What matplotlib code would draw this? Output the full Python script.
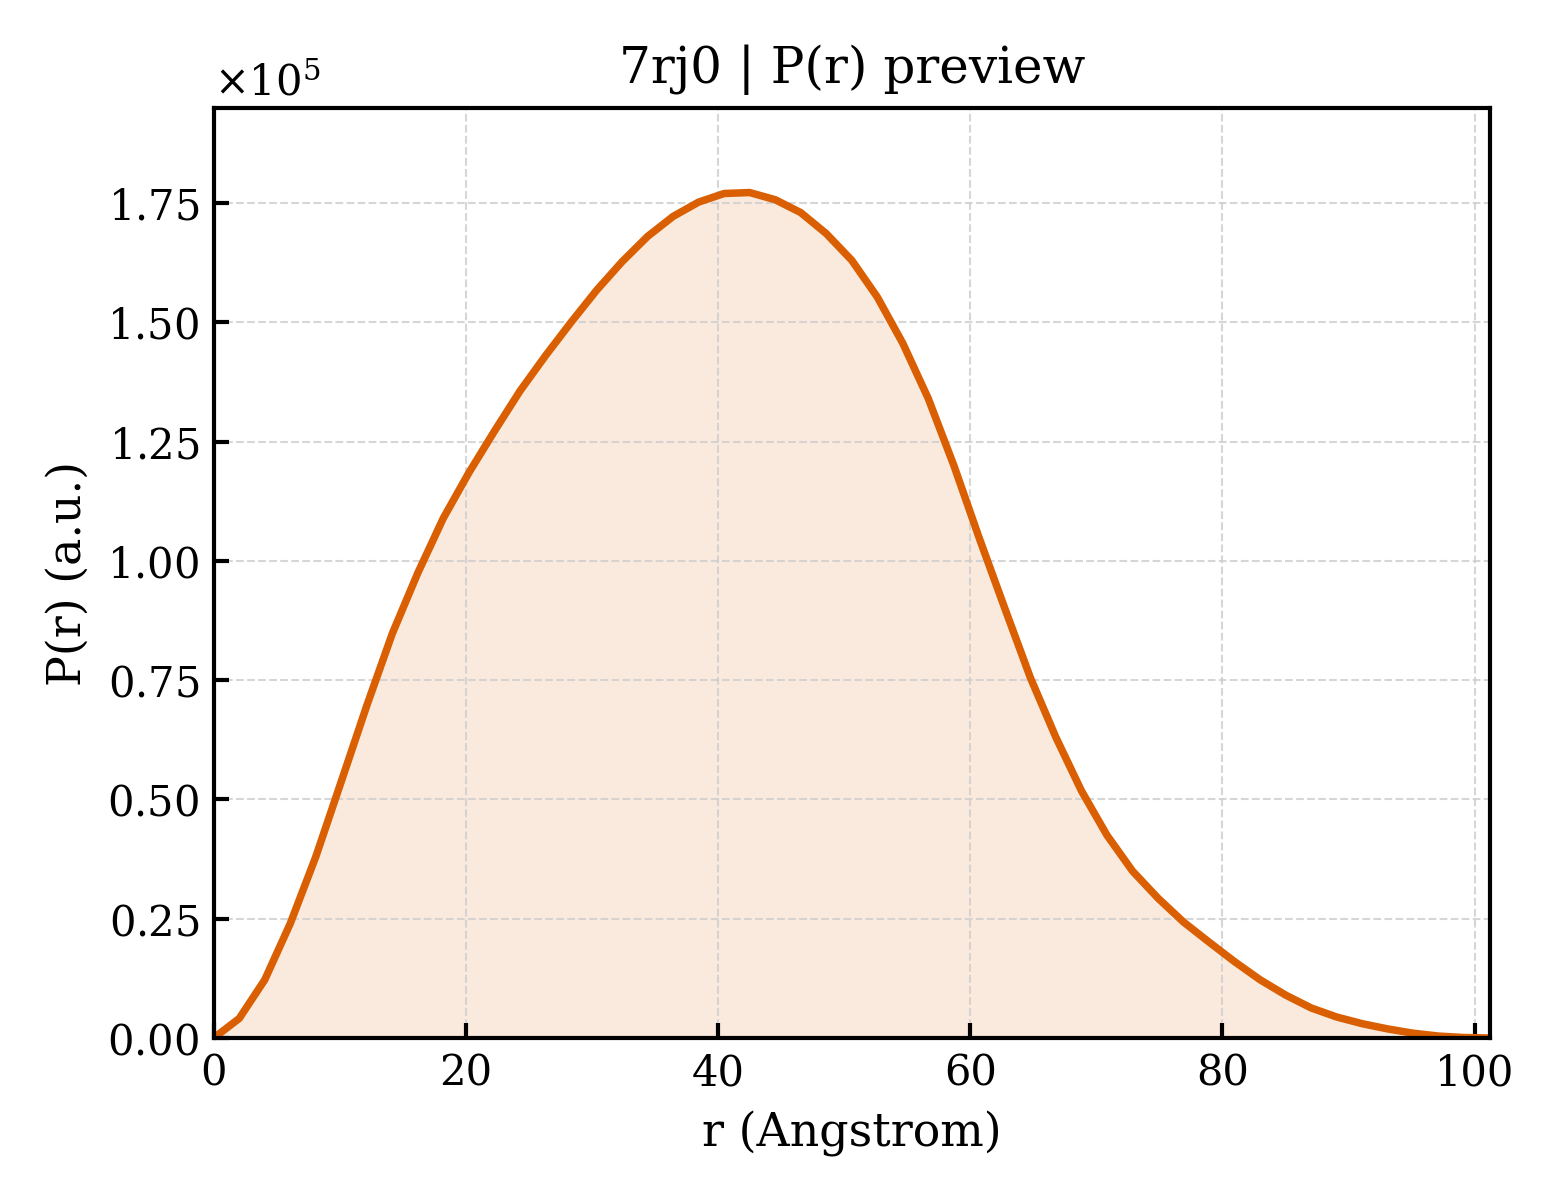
import matplotlib
matplotlib.use("Agg")
import matplotlib.pyplot as plt
import numpy as np

plt.rcParams["font.family"] = "DejaVu Serif"
plt.rcParams["mathtext.fontset"] = "dejavuserif"

# P(r) curve read from the preview (r in Angstrom, P(r) in units of 1e5)
r_max = 101.2
r = np.linspace(0, r_max, 51)
pr_e5 = [
    0.000, 0.041, 0.122, 0.240, 0.380, 0.538, 0.697, 0.848, 0.975, 1.090,
    1.185, 1.272, 1.356, 1.430, 1.500, 1.567, 1.627, 1.680, 1.722, 1.752,
    1.770, 1.772, 1.757, 1.730, 1.686, 1.630, 1.553, 1.456, 1.340, 1.200,
    1.047, 0.900, 0.755, 0.630, 0.518, 0.425, 0.350, 0.293, 0.243, 0.201,
    0.160, 0.122, 0.090, 0.063, 0.044, 0.030, 0.019, 0.010, 0.004, 0.001,
    0.000,
]
pr = np.array(pr_e5) * 1e5

color = "#D95F02"

fig, ax = plt.subplots(figsize=(5.2, 4), dpi=300)
fig.subplots_adjust(left=0.137, right=0.955, top=0.91, bottom=0.135)

ax.plot(r, pr, color=color, linewidth=1.8)
ax.fill_between(r, pr, 0, color=color, alpha=0.13, linewidth=0)

ax.set_xlim(0, r_max)
ax.set_ylim(0, pr.max() * 1.1)
ax.set_xticks([0, 20, 40, 60, 80, 100])

ax.set_title("7rj0 | P(r) preview", fontsize=12)
ax.set_xlabel("r (Angstrom)", fontsize=11)
ax.set_ylabel("P(r) (a.u.)", fontsize=11)

ax.ticklabel_format(axis="y", style="sci", scilimits=(0, 0), useMathText=True)
ax.yaxis.get_offset_text().set_fontsize(10)

ax.tick_params(direction="in", labelsize=10, length=3.5, width=1.0)
for s in ax.spines.values():
    s.set_linewidth(1.0)

ax.grid(True, linestyle="--", linewidth=0.5, color="0.8", alpha=0.8)

plt.savefig("out.png", dpi=300)
